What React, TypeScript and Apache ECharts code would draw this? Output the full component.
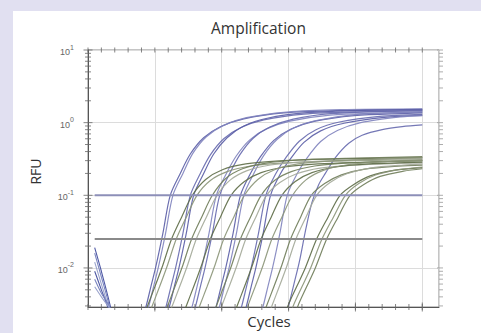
import React, { useEffect, useRef } from "react";
import * as echarts from "echarts";

// ---------- data ----------
const cycleTicks = [0, 2, 4, 6, 8, 10, 12, 14, 16, 18, 20, 22, 24, 26, 28, 30, 32, 34, 36, 38, 40, 42, 44, 46, 48, 50];
const cycleMajorTicks = [10, 20, 30, 40, 50];
const rfuMinorTicks = [
  0.003, 0.004, 0.005, 0.006, 0.007, 0.008, 0.009,
  0.02, 0.03, 0.04, 0.05, 0.06, 0.07, 0.08, 0.09,
  0.2, 0.3, 0.4, 0.5, 0.6, 0.7, 0.8, 0.9,
  2, 3, 4, 5, 6, 7, 8, 9,
];
const rfuMajorTicks = [0.01, 0.1, 1, 10];
const rfuTickExponents = ["-2", "-1", "0", "1"];

const thresholdHigh = [[1, 0.1], [50, 0.1]];
const thresholdLow = [[1, 0.025], [50, 0.025]];

const noise1 = [[1, 0.019], [2, 0.009], [3, 0.004], [3.8, 0.002]];
const noise2 = [[1, 0.016], [2, 0.0075], [3, 0.0035], [3.6, 0.002]];
const noise3 = [[1, 0.012], [2, 0.006], [3, 0.003], [3.4, 0.002]];
const noise4 = [[1, 0.009], [2, 0.005], [3, 0.0028], [3.3, 0.002]];
const noise5 = [[1, 0.007], [2, 0.0045], [3, 0.0032], [4, 0.002]];
const noise6 = [[1, 0.0055], [2, 0.004], [3, 0.003], [4.5, 0.002]];

const blue01 = [[8.1,0.002],[8.7,0.003],[9.4,0.0055],[10.1,0.01],[11.2,0.03],[12.3,0.1],[13.8,0.2],[15.3,0.37],[17.3,0.62],[19.8,0.88],[23.3,1.13],[29.3,1.36],[37.3,1.46],[50,1.5]];
const blue02 = [[8.5,0.002],[9.1,0.003],[9.8,0.0055],[10.5,0.01],[11.6,0.03],[12.7,0.1],[14.2,0.2],[15.7,0.38],[17.7,0.64],[20.2,0.91],[23.7,1.17],[29.7,1.4],[37.7,1.51],[50,1.55]];
const blue03 = [[11.1,0.002],[11.7,0.003],[12.4,0.0055],[13.1,0.01],[14.2,0.03],[15.3,0.1],[16.8,0.2],[18.3,0.36],[20.3,0.6],[22.8,0.85],[26.3,1.09],[32.3,1.31],[40.3,1.41],[50,1.45]];
const blue04 = [[11.6,0.002],[12.2,0.003],[12.9,0.0055],[13.6,0.01],[14.7,0.03],[15.8,0.1],[17.3,0.2],[18.8,0.37],[20.8,0.62],[23.3,0.9],[26.8,1.15],[32.8,1.37],[40.8,1.48],[50,1.52]];
const blue05 = [[15.0,0.002],[15.6,0.003],[16.3,0.0055],[17.0,0.01],[18.1,0.03],[19.2,0.1],[20.7,0.2],[22.2,0.35],[24.2,0.58],[26.7,0.82],[30.2,1.05],[36.2,1.27],[44.2,1.36],[50,1.4]];
const blue06 = [[15.5,0.002],[16.1,0.003],[16.8,0.0055],[17.5,0.01],[18.6,0.03],[19.7,0.1],[21.2,0.2],[22.7,0.36],[24.7,0.61],[27.2,0.87],[30.7,1.12],[36.7,1.34],[44.7,1.44],[50,1.48]];
const blue07 = [[18.6,0.002],[19.2,0.003],[19.9,0.0055],[20.6,0.01],[21.7,0.03],[22.8,0.1],[24.3,0.2],[25.8,0.34],[27.8,0.57],[30.3,0.81],[33.8,1.04],[39.8,1.25],[47.8,1.34],[50,1.36]];
const blue08 = [[19.1,0.002],[19.7,0.003],[20.4,0.0055],[21.1,0.01],[22.2,0.03],[23.3,0.1],[24.8,0.2],[26.3,0.355],[28.3,0.59],[30.8,0.85],[34.3,1.08],[40.3,1.3],[48.3,1.4],[50,1.42]];
const blue09 = [[22.4,0.002],[23.0,0.003],[23.7,0.0055],[24.4,0.01],[25.5,0.03],[26.6,0.1],[28.1,0.2],[29.6,0.33],[31.6,0.555],[34.1,0.8],[37.6,1.02],[43.6,1.22],[50,1.3]];
const blue10 = [[23.1,0.002],[23.7,0.003],[24.4,0.0055],[25.1,0.01],[26.2,0.03],[27.3,0.1],[28.8,0.2],[30.3,0.32],[32.3,0.535],[34.8,0.77],[38.3,0.98],[44.3,1.18],[50,1.26]];
const blue11 = [[25.6,0.002],[26.2,0.003],[26.9,0.0055],[27.6,0.01],[28.7,0.03],[29.8,0.1],[31.3,0.2],[32.8,0.33],[34.8,0.55],[37.3,0.78],[40.8,1.0],[46.8,1.2],[50,1.25]];
const blue12 = [[29.4,0.002],[30,0.003],[30.8,0.006],[31.6,0.012],[32.6,0.035],[33.5,0.08],[34.5,0.14],[35.5,0.2],[37,0.33],[39,0.52],[41,0.67],[44,0.8],[47,0.88],[50,0.93]];

const green01 = [[8.2,0.002],[8.9,0.003],[10.0,0.0055],[11.2,0.011],[12.5,0.025],[14.0,0.05],[15.6,0.1],[17.6,0.165],[20.1,0.225],[23.6,0.27],[28.6,0.297],[35.6,0.314],[50,0.33]];
const green02 = [[8.9,0.002],[9.6,0.003],[10.7,0.0055],[11.9,0.011],[13.2,0.025],[14.7,0.05],[16.3,0.1],[18.3,0.16],[20.8,0.212],[24.3,0.253],[29.3,0.279],[36.3,0.294],[50,0.31]];
const green03 = [[11.2,0.002],[11.9,0.003],[13.0,0.0055],[14.2,0.011],[15.5,0.025],[17.0,0.05],[18.6,0.1],[20.6,0.17],[23.1,0.232],[26.6,0.278],[31.6,0.306],[38.6,0.323],[50,0.34]];
const green04 = [[11.9,0.002],[12.6,0.003],[13.7,0.0055],[14.9,0.011],[16.2,0.025],[17.7,0.05],[19.3,0.1],[21.3,0.163],[23.8,0.219],[27.3,0.261],[32.3,0.288],[39.3,0.304],[50,0.32]];
const green05 = [[14.0,0.002],[14.7,0.003],[15.8,0.0055],[17.0,0.011],[18.3,0.025],[19.8,0.05],[21.4,0.1],[23.4,0.155],[25.9,0.205],[29.4,0.245],[34.4,0.27],[41.4,0.285],[50,0.3]];
const green06 = [[16.0,0.002],[16.7,0.003],[17.8,0.0055],[19.0,0.011],[20.3,0.025],[21.8,0.05],[23.4,0.1],[25.4,0.165],[27.9,0.225],[31.4,0.27],[36.4,0.297],[43.4,0.314],[50,0.33]];
const green07 = [[18.5,0.002],[19.2,0.003],[20.3,0.0055],[21.5,0.011],[22.8,0.025],[24.3,0.05],[25.9,0.1],[27.9,0.16],[30.4,0.212],[33.9,0.253],[38.9,0.279],[45.9,0.294],[50,0.3]];
const green08 = [[19.3,0.002],[20.0,0.003],[21.1,0.0055],[22.3,0.011],[23.6,0.025],[25.1,0.05],[26.7,0.1],[28.7,0.15],[31.2,0.198],[34.7,0.237],[39.7,0.261],[46.7,0.276],[50,0.28]];
const green09 = [[21.6,0.002],[22.3,0.003],[23.4,0.0055],[24.6,0.011],[25.9,0.025],[27.4,0.05],[29.0,0.1],[31.0,0.155],[33.5,0.205],[37.0,0.245],[42.0,0.27],[50,0.286]];
const green10 = [[23.2,0.002],[23.9,0.003],[25.0,0.0055],[26.2,0.011],[27.5,0.025],[29.0,0.05],[30.6,0.1],[32.6,0.163],[35.1,0.219],[38.6,0.261],[43.6,0.288],[50,0.302]];
const green11 = [[26.0,0.002],[26.7,0.003],[27.8,0.0055],[29.0,0.011],[30.3,0.025],[31.8,0.05],[33.4,0.1],[35.4,0.145],[37.9,0.191],[41.4,0.229],[46.4,0.252],[50,0.26]];
const green12 = [[26.8,0.002],[27.5,0.003],[28.6,0.0055],[29.8,0.011],[31.1,0.025],[32.6,0.05],[34.2,0.1],[36.2,0.15],[38.7,0.198],[42.2,0.237],[47.2,0.261],[50,0.268]];
const green13 = [[29.3,0.002],[29.9,0.003],[31.2,0.0055],[32.5,0.01],[34.2,0.025],[35.9,0.05],[37.7,0.1],[39.7,0.14],[42.2,0.185],[45.7,0.22],[50,0.24]];
const green14 = [[30.1,0.002],[30.7,0.003],[32.0,0.0055],[33.3,0.01],[35.0,0.025],[36.7,0.05],[38.5,0.1],[40.5,0.145],[43.0,0.19],[46.5,0.225],[50,0.245]];
const green15 = [[30.8,0.002],[31.4,0.003],[32.7,0.0055],[34.0,0.01],[35.7,0.025],[37.4,0.05],[39.2,0.1],[41.2,0.14],[43.7,0.182],[47.2,0.215],[50,0.232]];

const noiseCurves = [noise1, noise2, noise3, noise4, noise5, noise6];
const blueCurves = [blue01, blue02, blue03, blue04, blue05, blue06, blue07, blue08, blue09, blue10, blue11, blue12];
const greenCurves = [green01, green02, green03, green04, green05, green06, green07, green08, green09, green10, green11, green12, green13, green14, green15];

// ---------- styling ----------
const X_MIN = 0;
const X_MAX = 52.5;
const Y_MIN = 0.0029;
const Y_MAX = 10;
const blueColors = ["#5a5da6", "#8083be", "#6669ae"];
const greenColors = ["#5d6b46", "#8b9578", "#6f7c59", "#a3a998"];
const noiseColors = ["#4e58a4", "#7b86c0", "#9aa3cc"];

export default function App() {
  const ref = useRef<HTMLDivElement>(null);

  useEffect(() => {
    if (!ref.current) return;
    const chart = echarts.init(ref.current, undefined, { renderer: "svg" });

    const curveSeries: any[] = [];
    noiseCurves.forEach((d, i) =>
      curveSeries.push({
        type: "line", data: d, showSymbol: false, smooth: 0.3, silent: true,
        lineStyle: { width: 1.1, color: noiseColors[i % noiseColors.length] },
        z: 2,
      })
    );
    blueCurves.forEach((d, i) =>
      curveSeries.push({
        type: "line", data: d, showSymbol: false, smooth: 0.3, silent: true,
        lineStyle: { width: 1.2, color: blueColors[i % blueColors.length], opacity: 0.9 },
        z: 2,
      })
    );
    greenCurves.forEach((d, i) =>
      curveSeries.push({
        type: "line", data: d, showSymbol: false, smooth: 0.3, silent: true,
        lineStyle: { width: 1.2, color: greenColors[i % greenColors.length], opacity: 0.9 },
        z: 3,
      })
    );

    const tickSeries = (data: number[][], size: number[], offset: number[] = [0, 0], color = "#666") => ({
      type: "scatter", data, symbol: "rect", symbolSize: size, symbolOffset: offset,
      itemStyle: { color }, silent: true, clip: false, z: 6,
    });

    chart.setOption({
      animation: false,
      backgroundColor: "#e1e0f1",
      graphic: [
        { type: "rect", shape: { x: 13, y: 11, width: 468, height: 322 }, style: { fill: "#ffffff" }, z: -10, silent: true },
      ],
      title: {
        text: "Amplification", left: 211, top: 20, padding: 0,
        textStyle: { fontFamily: "Open Sans", fontSize: 15.5, fontWeight: "normal", color: "#333" },
      },
      grid: { left: 88, right: 42, top: 50, bottom: 26, show: true, borderColor: "#8a8a8a", borderWidth: 1, backgroundColor: "#fff" },
      xAxis: {
        type: "value", min: X_MIN, max: X_MAX, interval: 10,
        name: "Cycles", nameLocation: "middle", nameGap: 6,
        nameTextStyle: { fontFamily: "Open Sans", fontSize: 15, color: "#333", padding: [0, 0, 0, 11] },
        axisLine: { show: true, lineStyle: { color: "#555", width: 1 } },
        axisTick: { show: false },
        axisLabel: { show: false },
        splitLine: { show: true, lineStyle: { color: "#dcdcdc", width: 1 } },
      },
      yAxis: {
        type: "log", logBase: 10, min: Y_MIN, max: Y_MAX,
        name: "RFU", nameLocation: "middle", nameGap: 46, nameRotate: 90,
        nameTextStyle: { fontFamily: "Open Sans", fontSize: 14, color: "#333", padding: [0, 0, 0, 14] },
        axisLine: { show: true, lineStyle: { color: "#555", width: 1 } },
        axisTick: { show: false },
        axisLabel: {
          showMinLabel: false,
          margin: 14,
          formatter: (v: number) => {
            const idx = rfuMajorTicks.findIndex((t) => Math.abs(Math.log10(t) - Math.log10(v)) < 1e-6);
            if (idx < 0) return "";
            return `{b|10}{s|${rfuTickExponents[idx]}}`;
          },
          rich: {
            b: { fontFamily: "Liberation Sans", fontSize: 9, color: "#666", lineHeight: 13, verticalAlign: "bottom" },
            s: { fontFamily: "Liberation Sans", fontSize: 7, color: "#666", lineHeight: 8, verticalAlign: "top" },
          },
        },
        splitLine: { show: true, lineStyle: { color: "#dcdcdc", width: 1 } },
      },
      series: [
        ...curveSeries,
        {
          type: "line", data: thresholdHigh, showSymbol: false, silent: true,
          lineStyle: { width: 2, color: "#8d8fb8" }, z: 4,
        },
        {
          type: "line", data: thresholdLow, showSymbol: false, silent: true,
          lineStyle: { width: 2, color: "#8a8a8a" }, z: 4,
        },
        tickSeries(rfuMinorTicks.map((v) => [X_MIN, v]), [6, 1]),
        tickSeries(rfuMajorTicks.map((v) => [X_MIN, v]), [9, 1]),
        tickSeries(rfuMinorTicks.map((v) => [X_MAX, v]), [4, 1], [2, 0], "#999"),
        tickSeries(rfuMajorTicks.map((v) => [X_MAX, v]), [6, 1], [1, 0], "#999"),
        tickSeries(cycleTicks.map((c) => [c, Y_MIN]), [1, 6]),
        tickSeries(cycleMajorTicks.map((c) => [c, Y_MIN]), [1, 9]),
        tickSeries(cycleTicks.map((c) => [c, Y_MAX]), [1, 5]),
      ],
    });

    return () => chart.dispose();
  }, []);

  return <div ref={ref} style={{ position: "fixed", left: 0, top: 0, width: 481, height: 333 }} />;
}
